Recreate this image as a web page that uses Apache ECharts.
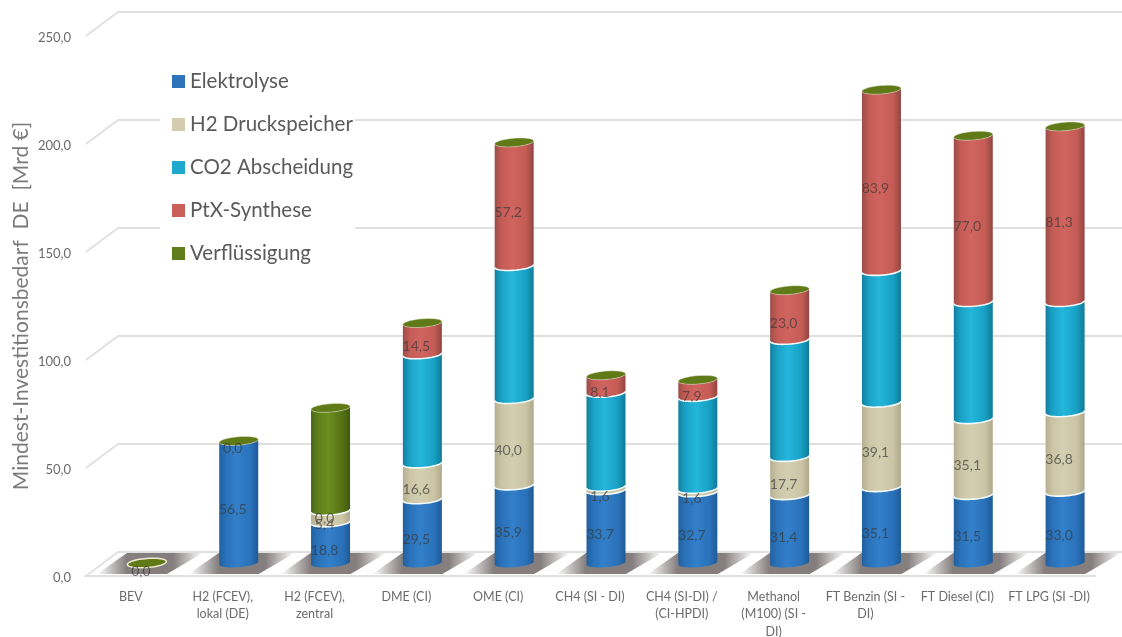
<!DOCTYPE html>
<html><head><meta charset="utf-8">
<style>html,body{margin:0;padding:0;background:#fff}#c{width:1122px;height:637px}</style>
<script src="https://cdn.jsdelivr.net/npm/echarts@6/dist/echarts.min.js"></script>
</head><body><div id="c"></div>
<script>
const categories = ['BEV','H2 (FCEV),\nlokal (DE)','H2 (FCEV),\nzentral','DME (CI)','OME (CI)','CH4 (SI - DI)','CH4 (SI-DI) /\n(CI-HPDI)','Methanol\n(M100) (SI -\nDI)','FT Benzin (SI -\nDI)','FT Diesel (CI)','FT LPG (SI -DI)'];
const elektrolyse = [null,56.5,18.8,29.5,35.9,33.7,32.7,31.4,35.1,31.5,33.0];
const druckspeicher = [null,null,5.4,16.6,40.0,1.6,1.6,17.7,39.1,35.1,36.8];
const abscheidung = [null,null,0,50.5,61.6,43.5,42.6,54.2,61.0,54.2,51.0];
const synthese = [null,null,null,14.5,57.2,8.1,7.9,23.0,83.9,77.0,81.3];
const verfluessigung = [0,0,47.6,null,null,null,null,null,null,null,null];
const yTicks = [0,50,100,150,200,250];
const seriesNames = ['Elektrolyse','H2 Druckspeicher','CO2 Abscheidung','PtX-Synthese','Verflüssigung'];
const seriesValues = [elektrolyse,druckspeicher,abscheidung,synthese,verfluessigung];
const legendColors = ['#2f73b8','#d3ccb0','#1fa9cc','#cb5f59','#5f7d1a'];
const hiddenLabelSeries = [false,false,true,false,true];
const gradients = [
  ['#22609f','#2a72ba','#337fc9','#2a72ba','#1f5a96'],
  ['#b5ae90','#cbc5a6','#d5cfb2','#cbc5a6','#aea88b'],
  ['#137f9e','#1aa2c6','#25b6dc','#18a0c4','#0f7b98'],
  ['#9b4d48','#c65c56','#d0645e','#c65c56','#914641'],
  ['#49651a','#5f7f1a','#6b8c20','#557214','#3f5a10']
];
const RX = 19.5, RY = 4.2, TILT = 1.5, DX = 33, DY = 24;

const fmt = v => v.toFixed(1).replace('.', ',');
const grad = c => new echarts.graphic.LinearGradient(0,0,1,0,
  [{offset:0,color:c[0]},{offset:.18,color:c[1]},{offset:.45,color:c[2]},{offset:.8,color:c[3]},{offset:1,color:c[4]}]);
function arc(cx, y, rev, ry) {
  const pts = [];
  for (let k = 0; k <= 24; k++) {
    const t = Math.PI * k / 24 * 1;
    const a = rev ? Math.PI - t : t;
    pts.push([cx + RX * Math.cos(a), y + (ry||RY) * Math.sin(a) - TILT * Math.cos(a)]);
  }
  return pts;
}
function ellipse(cx, y, ry) {
  const pts = [];
  for (let k = 0; k < 48; k++) {
    const a = 2 * Math.PI * k / 48;
    pts.push([cx + RX * Math.cos(a), y + ry * Math.sin(a) - TILT * Math.cos(a)]);
  }
  return pts;
}
const bases = categories.map(() => 0);
const barSeries = seriesValues.map((vals, s) => {
  const data = vals.map((v, i) => {
    const base = bases[i], val = v == null ? 0 : v;
    bases[i] += val;
    return [i, base, base + val, v == null ? -1 : v];
  });
  return {
    name: seriesNames[s], type: 'custom', xAxisIndex: 1, yAxisIndex: 1,
    itemStyle: {color: legendColors[s]}, clip: false, data,
    encode: {x: 0, y: [1, 2]},
    renderItem(params, api) {
      const i = api.value(0), a = api.value(1), b = api.value(2), v = api.value(3);
      const p0 = api.coord([i, a]), p1 = api.coord([i, b]);
      const cx = p0[0], kids = [];
      if (b > a) {
        const poly = arc(cx, p1[1], true).concat(arc(cx, p0[1], false));
        kids.push({type:'polygon', shape:{points: poly}, style:{fill: grad(gradients[s])}, z2: 10 + s});
        if (a > 0) kids.push({type:'polyline', shape:{points: arc(cx, p0[1], false)},
          style:{stroke:'#f4fbfb', lineWidth:1.6, fill:null}, z2: 20 + s});
      }
      if (v >= 0 && !(hiddenLabelSeries[s] && v > 0)) {
        const y = (p0[1] + p1[1]) / 2 + 8;
        kids.push({type:'text', x: cx - 6, y, style:{text: fmt(v), x:0, y:0, textAlign:'center', textVerticalAlign:'middle',
          font:'14px Lato', fill:'rgba(55,55,55,0.68)'}, z2: 60});
      }
      return {type:'group', children: kids};
    }
  };
});
const totals = bases.slice();
const capSeries = {
  type:'custom', xAxisIndex:1, yAxisIndex:1, clip:false, silent:true,
  data: totals.map((t,i)=>[i,t]),
  renderItem(params, api) {
    const p = api.coord([api.value(0), api.value(1)]);
    const flat = api.value(1) < 1;
    return {type:'polygon', shape:{points: ellipse(p[0], p[1], flat ? 4.6 : 4.2)},
      style:{fill:'#5f7a16', stroke: flat ? '#efead2' : 'rgba(235,235,220,0.55)', lineWidth: flat ? 1.5 : 0.8}, z2: 40};
  }
};
const shadowSeries = {
  type:'custom', xAxisIndex:1, yAxisIndex:1, clip:false, silent:true,
  data: categories.map((c,i)=>[i,0]),
  renderItem(params, api) {
    const p = api.coord([api.value(0), 0]);
    const cx = p[0], y = p[1];
    return {type:'polygon', shape:{points:[[cx-50,y+11],[cx+20,y+11],[cx+56,y-10],[cx-20,y-10]]},
      style:{fill:new echarts.graphic.LinearGradient(0,0,1,0,[
        {offset:0,color:'rgba(120,112,112,0)'},{offset:.28,color:'rgba(120,112,112,.9)'},
        {offset:.72,color:'rgba(120,112,112,.9)'},{offset:1,color:'rgba(120,112,112,0)'}])}, z2:1};
  }
};
const depthSeries = {
  type:'custom', xAxisIndex:0, yAxisIndex:0, clip:false, silent:true,
  data: yTicks.map(t=>[0,t]),
  renderItem(params, api) {
    const p = api.coord([0, api.value(1)]), x0 = params.coordSys.x;
    return {type:'line', shape:{x1:x0+1, y1:p[1], x2:x0+DX, y2:p[1]-DY},
      style:{stroke:'#e0e0e0', lineWidth:1.8}, z2:2};
  }
};
const chart = echarts.init(document.getElementById('c'), null, {renderer:'canvas'});
const hiddenY = {type:'value', min:0, max:250, interval:50, axisLine:{show:false}, axisTick:{show:false}, axisLabel:{show:false}, splitLine:{show:false}};
const hiddenX = {type:'category', data:categories, axisLine:{show:false}, axisTick:{show:false}, axisLabel:{show:false}};
chart.setOption({
  animation:false, backgroundColor:'#fff',
  grid:[
    {left:85, width:1010, top:36, height:540, outerBoundsMode:'none'},
    {left:101, width:1010, top:23, height:540, outerBoundsMode:'none'},
    {left:118, width:1004, top:12, height:540, outerBoundsMode:'none'}
  ],
  xAxis:[
    {type:'category', data:categories, gridIndex:0,
     axisLine:{lineStyle:{color:'#e0e0e0', width:2}}, axisTick:{show:false},
     axisLabel:{color:'#6b6b6b', fontFamily:'Lato', fontSize:12.5, lineHeight:17.5, margin:12, interval:0}},
    {...hiddenX, gridIndex:1},
    {...hiddenX, gridIndex:2}
  ],
  yAxis:[
    {type:'value', gridIndex:0, min:0, max:250, interval:50,
     name:'Mindest-Investitionsbedarf  DE  [Mrd €]', nameLocation:'middle', nameGap:53, nameRotate:90, nameMoveOverlap:false,
     nameTextStyle:{color:'#7a7a7a', fontFamily:'Lato', fontSize:21},
     axisLine:{show:false}, axisTick:{show:false}, splitLine:{show:false},
     axisLabel:{color:'#6b6b6b', fontFamily:'Lato', fontSize:13, margin:14, verticalAlign:'top', lineHeight:4, formatter:v=>fmt(v)}},
    {...hiddenY, gridIndex:1},
    {...hiddenY, gridIndex:2, splitLine:{show:true, lineStyle:{color:'#e0e0e0', width:1.8}}}
  ],
  legend:{
    orient:'vertical', left:160, top:60, padding:[11,2,11,12], itemGap:22,
    itemWidth:13, itemHeight:13, icon:'rect', backgroundColor:'#fff',
    data:seriesNames, selectedMode:false,
    textStyle:{color:'#5a5a5a', fontFamily:'Lato', fontSize:20.5}
  },
  series:[depthSeries, shadowSeries, ...barSeries, capSeries]
});
</script></body></html>
